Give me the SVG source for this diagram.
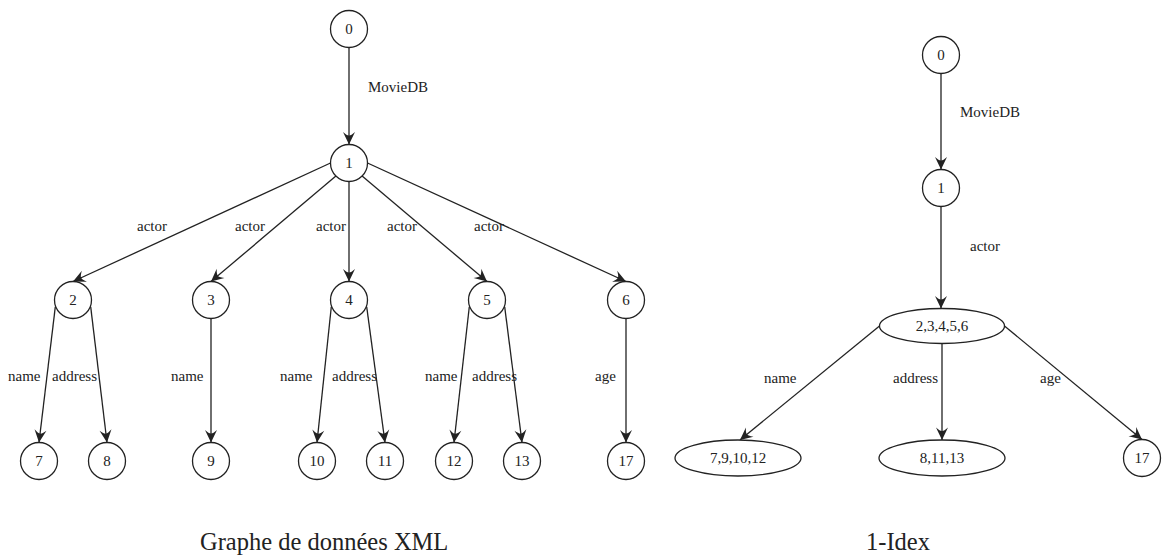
<svg xmlns="http://www.w3.org/2000/svg" width="1167" height="556" viewBox="0 0 1167 556">
  <style>
    text { font-family: "Liberation Serif", "Times New Roman", serif; fill: #222; }
    .n circle, .n ellipse { fill: #fff; stroke: #222; stroke-width: 1.3; }
    .n text { font-size: 15px; text-anchor: middle; }
    .lbl { font-size: 15px; }
    .title { font-size: 24.5px; }
    #edges line { stroke: #222; stroke-width: 1.3; marker-end: url(#arr); }
  </style>
  <defs>
    <marker id="arr" markerUnits="userSpaceOnUse" markerWidth="16" markerHeight="16" viewBox="-14 -8 16 16" refX="0" refY="0" orient="auto" overflow="visible">
      <path d="M0,0 L-12.5,-6 Q-8.5,-1.5 -9,0 Q-8.5,1.5 -12.5,6 Z" fill="#222"/>
    </marker>
  </defs>
  <rect width="1167" height="556" fill="#fff"/>

  <!-- connectors -->
  <g id="edges">
    <!-- XML data graph -->
    <line x1="349" y1="47.5" x2="349" y2="144.5"/>
    <line x1="330.5" y1="163" x2="73" y2="281.5"/>
    <line x1="335.9" y1="176.1" x2="211" y2="281.5"/>
    <line x1="349" y1="181.5" x2="349" y2="281.5"/>
    <line x1="362.1" y1="176.1" x2="487" y2="281.5"/>
    <line x1="367.5" y1="163" x2="626" y2="281.5"/>
    <line x1="55.3" y1="306.8" x2="39" y2="442.5"/>
    <line x1="90.7" y1="306.8" x2="107" y2="442.5"/>
    <line x1="211" y1="318.5" x2="211" y2="442.5"/>
    <line x1="331.3" y1="306.8" x2="317" y2="442.5"/>
    <line x1="366.7" y1="306.8" x2="385" y2="442.5"/>
    <line x1="469.3" y1="306.8" x2="454" y2="442.5"/>
    <line x1="504.7" y1="306.8" x2="522" y2="442.5"/>
    <line x1="626" y1="318.5" x2="626" y2="442.5"/>
    <!-- 1-index -->
    <line x1="941" y1="73.5" x2="941" y2="169.5"/>
    <line x1="941" y1="206.5" x2="941" y2="308.5"/>
    <line x1="879.5" y1="326" x2="740" y2="440"/>
    <line x1="942" y1="343.5" x2="942" y2="440"/>
    <line x1="1004.5" y1="326" x2="1142" y2="439.5"/>
  </g>

  <!-- edge labels -->
  <g id="edge-labels" class="lbl">
    <text x="368" y="92">MovieDB</text>
    <text x="137" y="231">actor</text>
    <text x="235" y="231">actor</text>
    <text x="316" y="231">actor</text>
    <text x="387" y="231">actor</text>
    <text x="474" y="231">actor</text>
    <text x="8" y="381">name</text>
    <text x="52" y="381">address</text>
    <text x="171" y="381">name</text>
    <text x="280" y="381">name</text>
    <text x="332" y="381">address</text>
    <text x="425" y="381">name</text>
    <text x="472" y="381">address</text>
    <text x="595" y="381">age</text>
    <text x="960" y="117">MovieDB</text>
    <text x="970" y="251">actor</text>
    <text x="764" y="383">name</text>
    <text x="893" y="383">address</text>
    <text x="1040" y="383">age</text>
  </g>

  <!-- XML data graph nodes -->
  <g id="n0" class="n"><circle cx="349" cy="29" r="18.5"/><text x="349" y="34">0</text></g>
  <g id="n1" class="n"><circle cx="349" cy="163" r="18.5"/><text x="349" y="168">1</text></g>
  <g id="n2" class="n"><circle cx="73" cy="300" r="18.5"/><text x="73" y="305">2</text></g>
  <g id="n3" class="n"><circle cx="211" cy="300" r="18.5"/><text x="211" y="305">3</text></g>
  <g id="n4" class="n"><circle cx="349" cy="300" r="18.5"/><text x="349" y="305">4</text></g>
  <g id="n5" class="n"><circle cx="487" cy="300" r="18.5"/><text x="487" y="305">5</text></g>
  <g id="n6" class="n"><circle cx="626" cy="300" r="18.5"/><text x="626" y="305">6</text></g>
  <g id="n7" class="n"><circle cx="39" cy="461" r="18.5"/><text x="39" y="466">7</text></g>
  <g id="n8" class="n"><circle cx="107" cy="461" r="18.5"/><text x="107" y="466">8</text></g>
  <g id="n9" class="n"><circle cx="211" cy="461" r="18.5"/><text x="211" y="466">9</text></g>
  <g id="n10" class="n"><circle cx="317" cy="461" r="18.5"/><text x="317" y="466">10</text></g>
  <g id="n11" class="n"><circle cx="385" cy="461" r="18.5"/><text x="385" y="466">11</text></g>
  <g id="n12" class="n"><circle cx="454" cy="461" r="18.5"/><text x="454" y="466">12</text></g>
  <g id="n13" class="n"><circle cx="522" cy="461" r="18.5"/><text x="522" y="466">13</text></g>
  <g id="n17" class="n"><circle cx="626" cy="461" r="18.5"/><text x="626" y="466">17</text></g>

  <!-- 1-index nodes -->
  <g id="i0" class="n"><circle cx="941" cy="55" r="18.5"/><text x="941" y="60">0</text></g>
  <g id="i1" class="n"><circle cx="941" cy="188" r="18.5"/><text x="941" y="193">1</text></g>
  <g id="i23456" class="n"><ellipse cx="942" cy="326" rx="62.5" ry="17.5"/><text x="942" y="331">2,3,4,5,6</text></g>
  <g id="i791012" class="n"><ellipse cx="738" cy="458" rx="63" ry="18"/><text x="738" y="463">7,9,10,12</text></g>
  <g id="i81113" class="n"><ellipse cx="942" cy="458" rx="63" ry="18"/><text x="942" y="463">8,11,13</text></g>
  <g id="i17" class="n"><circle cx="1142" cy="458" r="18.5"/><text x="1142" y="463">17</text></g>

  <!-- captions -->
  <text class="title" x="200" y="550">Graphe de données XML</text>
  <text class="title" x="866" y="550">1-Idex</text>
</svg>
